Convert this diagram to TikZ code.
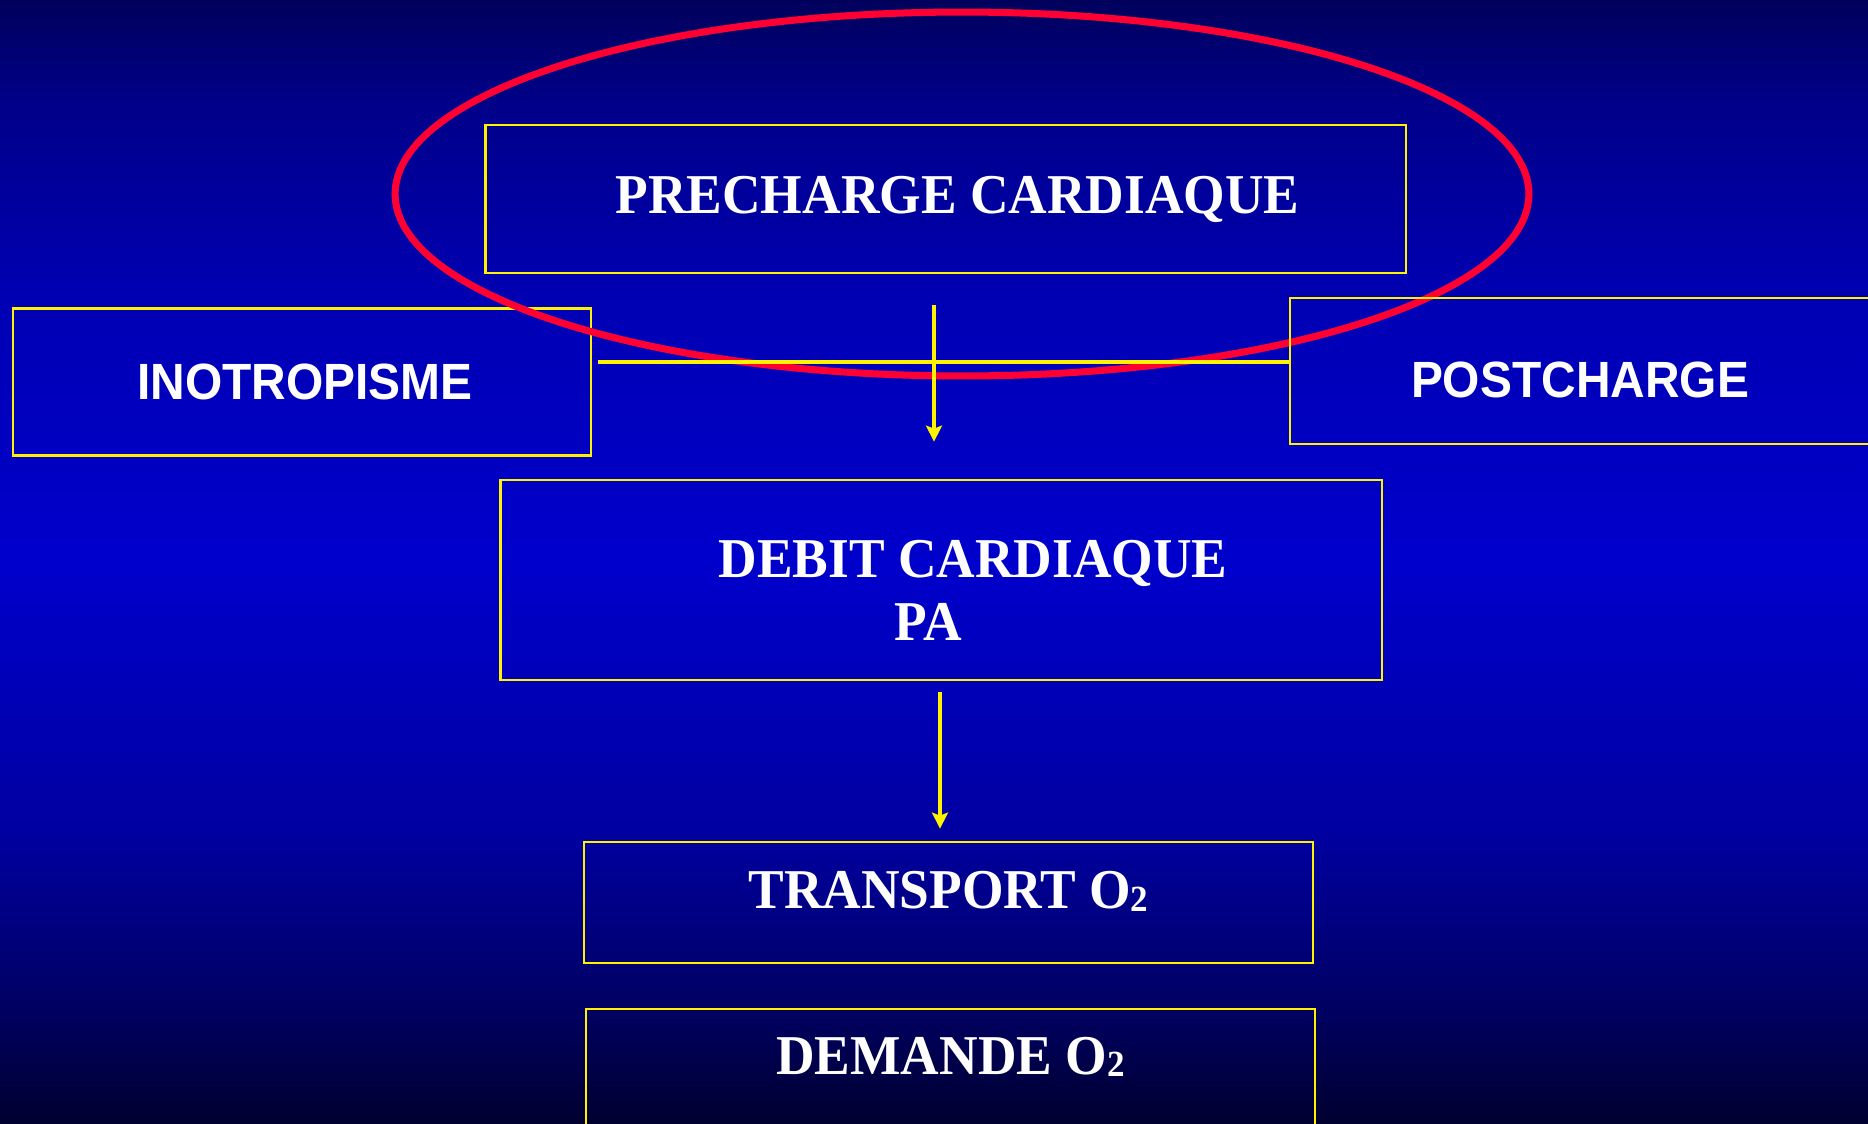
\documentclass[tikz,border=0pt]{standalone}
\usepackage{fontspec}
\setmainfont{Liberation Serif}[FakeStretch=0.95]
\newfontfamily\arialfont{Liberation Sans}[FakeStretch=0.94]
\usetikzlibrary{arrows.meta,positioning,calc}
\definecolor{ringred}{HTML}{FF0033}
\definecolor{bgA}{HTML}{000030}
\definecolor{bgB}{HTML}{000060}
\definecolor{bgC}{HTML}{0000A0}
\definecolor{bgD}{HTML}{0000CC}
\definecolor{bgE}{HTML}{0000B4}
\definecolor{bgF}{HTML}{000088}
\definecolor{bgG}{HTML}{00005C}
\pgfdeclareverticalshading{slidebg}{100bp}{color(0bp)=(bgA); color(25bp)=(bgA);
  color(29.9bp)=(bgB); color(37.85bp)=(bgC); color(50bp)=(bgD); color(61.5bp)=(bgE);
  color(70.5bp)=(bgF); color(75bp)=(bgG); color(100bp)=(bgG)}
\newcommand{\oxsub}{{\fontsize{21}{21}\selectfont\raisebox{-1.5pt}{2}}}

\begin{document}
\begin{tikzpicture}[x=0.02cm,y=-0.02cm,
    box/.style={draw=yellow, line width=1.6pt, text=white, inner sep=0pt,
      font=\bfseries\fontsize{32}{36}\selectfont},
    sansbox/.style={box, font=\arialfont\bfseries\fontsize{29}{34}\selectfont},
    link/.style={draw=yellow, line width=2.4pt},
    flow/.style={link, -{Stealth[length=0.32cm,width=0.32cm,inset=0.06cm]}},
    ring/.style={draw=ringred, line width=4pt}]

  % slide background
  \shade[shading=slidebg] (0,0) rectangle (1868,1123);
  \useasboundingbox (0,0) rectangle (1868,1123);

  % boxes
  \node[sansbox, minimum width=11.56cm, minimum height=2.94cm] (inotrop) at (302,382)
    {\hspace*{0.12cm}INOTROPISME};
  \node[box, minimum width=18.42cm, minimum height=2.96cm] (precharge) at (945.5,199)
    {\hspace*{0.48cm}PRECHARGE CARDIAQUE};

  % red ring round the preload
  \draw[ring] (962,194) ellipse [x radius=11.34cm, y radius=3.64cm];

  \node[sansbox, minimum width=11.6cm, minimum height=2.92cm,
    text height=1.04cm, text depth=0pt] (postcharge) at (1580,371)
    {POSTCHARGE};
  \node[box, minimum width=17.64cm, minimum height=4cm, align=center] (debit) at (941,580)
    {\hspace*{1.28cm}\rule{0pt}{1.17cm}DEBIT CARDIAQUE\\PA\hspace*{0.52cm}};
  \node[box, minimum width=14.58cm, minimum height=2.42cm,
    text height=0.76cm, text depth=0.52cm] (transport) at (948.5,902.5)
    {TRANSPORT O\oxsub};
  \node[box, minimum width=14.58cm, minimum height=3cm,
    text height=0.76cm, text depth=1.16cm] (demande) at (950.5,1084)
    {DEMANDE O\oxsub};

  % connectors
  \coordinate (hline) at (0,362);
  \draw[link] ($(inotrop.east |- hline)+(6,0)$) -- (postcharge.west |- hline);
  \draw[flow] ($(precharge.south)+(-11.5,31)$) -- ($(debit.north)+(-7,-37)$);
  \draw[flow] ($(debit.south)+(-1,11)$) -- ($(transport.north)+(-8.5,-12)$);
\end{tikzpicture}
\end{document}
